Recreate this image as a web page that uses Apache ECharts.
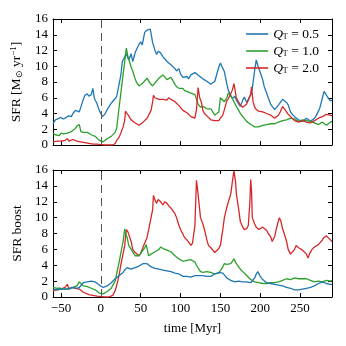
<!DOCTYPE html>
<html>
<head>
<meta charset="utf-8">
<script src="https://cdn.jsdelivr.net/npm/echarts@6/dist/echarts.min.js"></script>
<style>
  html, body { margin: 0; padding: 0; background: #fff; }
  #main { width: 346px; height: 346px; }
</style>
</head>
<body>
<div id="main"></div>
<script>
// time [Myr] vs. value
var seriesNames = ['0.5', '1.0', '2.0'];
var colors = ['#1f77b4', '#2ca02c', '#d62728'];
var xTicks = [-50, 0, 50, 100, 150, 200, 250];

// top panel: SFR
var sfrQ05 = [[-60,2.7],[-57,3.2],[-55,3.0],[-50,3.5],[-47,3.3],[-45,3.4],[-40,3.7],[-37,3.6],[-35,4.0],[-32,4.4],[-30,4.6],[-27,4.2],[-25,4.4],[-22,5.8],[-20,6.3],[-17,6.5],[-15,6.2],[-12,6.4],[-10,7.2],[-8,5.9],[-5,5.3],[-2,4.4],[0,4.0],[2,3.6],[5,3.9],[8,4.5],[10,4.8],[13,5.3],[15,5.5],[18,5.9],[20,6.2],[23,7.8],[25,8.8],[27,10.6],[30,11.2],[32,11.6],[35,10.8],[38,11.6],[40,10.6],[43,11.7],[45,12.2],[48,12.8],[50,13.1],[52,12.7],[55,14.3],[58,14.6],[60,14.4],[62,14.7],[65,13.0],[68,12.0],[70,11.5],[72,11.9],[75,11.7],[78,11.2],[80,11.2],[83,10.6],[85,10.7],[88,10.2],[90,10.4],[93,9.7],[95,9.4],[98,9.7],[100,9.0],[103,8.6],[105,8.4],[108,8.7],[110,8.4],[113,8.9],[115,9.0],[118,9.2],[120,9.1],[123,8.8],[125,8.9],[128,8.4],[130,8.6],[133,8.1],[135,8.0],[138,7.7],[140,7.8],[143,8.1],[145,8.3],[148,9.9],[150,10.4],[152,10.2],[155,9.3],[158,7.8],[160,6.9],[163,6.3],[165,5.9],[168,6.2],[170,5.7],[173,5.2],[175,4.9],[178,5.7],[180,6.1],[183,5.4],[185,5.8],[188,6.4],[190,7.2],[193,9.5],[195,10.8],[197,10.1],[200,9.2],[203,8.3],[205,7.4],[208,6.6],[210,6.0],[213,5.2],[215,4.9],[218,4.5],[220,4.6],[223,5.1],[225,5.2],[228,5.8],[230,5.6],[233,5.4],[235,5.1],[238,4.2],[240,3.9],[243,3.6],[245,3.4],[248,3.2],[250,3.2],[253,3.0],[255,3.1],[258,3.4],[260,3.2],[263,3.0],[265,3.1],[268,3.4],[270,3.7],[273,4.3],[275,4.8],[278,6.0],[280,6.8],[282,6.5],[285,6.0],[288,5.6],[290,5.7]];
var sfrQ10 = [[-60,1.5],[-57,1.3],[-55,1.4],[-52,1.2],[-50,1.5],[-47,1.4],[-45,1.6],[-42,1.5],[-40,1.5],[-37,1.7],[-35,1.8],[-32,2.1],[-30,2.4],[-27,2.6],[-25,1.7],[-22,1.6],[-20,1.5],[-17,1.6],[-15,1.4],[-12,1.3],[-10,1.3],[-7,1.1],[-5,1.0],[-2,0.6],[0,0.4],[3,0.4],[5,0.6],[8,0.8],[10,0.9],[13,1.1],[15,1.3],[18,1.6],[20,2.2],[22,4.0],[25,6.5],[28,9.0],[30,10.6],[32,12.3],[34,11.2],[36,10.6],[38,9.9],[40,9.4],[43,8.4],[45,7.9],[48,7.5],[50,7.6],[53,7.9],[55,7.7],[58,8.5],[60,8.7],[62,7.8],[65,7.5],[68,7.9],[70,8.1],[73,8.5],[75,8.7],[78,8.9],[80,8.8],[83,8.3],[85,8.2],[88,8.6],[90,8.4],[93,7.7],[95,7.4],[98,7.2],[100,7.0],[103,7.2],[105,6.9],[108,6.8],[110,6.7],[113,6.6],[115,6.5],[118,6.4],[120,6.3],[122,5.2],[125,4.8],[128,4.9],[130,4.7],[133,4.6],[135,4.4],[138,4.6],[140,4.4],[143,3.8],[145,3.7],[148,4.2],[150,6.0],[152,5.8],[155,5.5],[158,6.0],[160,6.6],[163,6.2],[165,5.9],[168,5.3],[170,4.9],[173,4.4],[175,4.0],[178,3.6],[180,3.4],[183,3.0],[185,2.8],[188,2.6],[190,2.5],[193,2.3],[195,2.2],[198,2.3],[200,2.4],[203,2.5],[205,2.5],[208,2.6],[210,2.6],[213,2.7],[215,2.8],[218,2.7],[220,2.8],[223,2.9],[225,3.0],[228,3.1],[230,3.2],[233,3.2],[235,3.3],[238,3.4],[240,3.4],[243,3.3],[245,3.2],[248,3.0],[250,3.0],[253,3.2],[255,3.3],[258,3.1],[260,3.2],[263,3.0],[265,2.8],[268,2.8],[270,2.7],[273,2.6],[275,2.6],[278,2.9],[280,2.8],[283,2.5],[285,2.6],[288,2.9],[290,3.0]];
var sfrQ20 = [[-60,0.4],[-55,0.5],[-50,0.5],[-45,0.6],[-42,0.8],[-40,0.5],[-35,0.7],[-30,0.5],[-25,0.4],[-20,0.3],[-15,0.2],[-10,0.1],[-5,0.1],[0,0.05],[5,0],[10,0],[15,0],[18,0.2],[20,0.6],[23,1.0],[25,1.5],[28,2.3],[30,3.2],[31,4.3],[33,4.0],[35,3.7],[38,3.2],[40,3.0],[43,2.8],[45,2.8],[48,2.5],[50,2.6],[53,2.9],[55,3.1],[58,3.4],[60,3.6],[63,4.4],[65,5.5],[66,6.3],[68,6.0],[70,6.1],[73,5.8],[75,6.0],[78,5.8],[80,5.9],[83,5.7],[85,6.0],[88,5.8],[90,5.7],[93,5.5],[95,5.3],[98,5.0],[100,4.8],[103,4.4],[105,4.3],[108,4.1],[110,3.9],[113,3.6],[115,3.5],[118,3.4],[120,4.5],[122,7.3],[124,6.0],[126,5.5],[128,4.4],[130,4.0],[133,3.7],[135,3.5],[138,3.2],[140,3.0],[143,3.1],[145,2.9],[148,3.1],[150,3.4],[153,3.8],[155,4.5],[158,5.6],[160,5.9],[163,6.5],[165,7.0],[167,7.8],[170,6.0],[173,5.4],[175,5.1],[178,4.8],[180,4.9],[183,5.2],[185,5.0],[188,6.4],[189,7.4],[191,5.5],[193,4.8],[195,4.5],[198,4.3],[200,4.4],[203,4.2],[205,4.1],[208,4.0],[210,4.0],[213,3.8],[215,3.7],[218,3.4],[220,3.3],[223,3.8],[225,4.2],[228,4.9],[230,4.7],[233,4.2],[235,3.9],[238,3.6],[240,3.4],[243,3.1],[245,3.0],[248,2.9],[250,3.0],[253,3.1],[255,3.0],[258,2.9],[260,3.0],[263,2.8],[265,2.8],[268,3.1],[270,3.2],[273,3.4],[275,3.3],[278,3.6],[280,3.7],[283,3.9],[285,4.0],[288,3.8],[290,3.7]];

// bottom panel: SFR boost
var boostQ05 = [[-60,1.0],[-55,0.9],[-50,1.0],[-45,1.0],[-40,1.1],[-35,1.2],[-30,1.1],[-27,1.2],[-25,1.4],[-22,1.8],[-20,2.0],[-17,1.9],[-15,1.9],[-12,2.0],[-10,2.1],[-7,1.9],[-5,1.7],[-2,1.5],[0,1.4],[3,1.2],[5,1.3],[8,1.4],[10,1.5],[13,1.8],[15,2.0],[18,2.3],[20,2.5],[23,2.7],[25,2.8],[28,3.1],[30,3.4],[33,3.7],[35,3.8],[38,3.5],[40,3.5],[43,3.7],[45,3.7],[48,3.9],[50,4.0],[53,4.2],[55,4.3],[58,4.2],[60,4.0],[63,3.8],[65,3.8],[68,3.6],[70,3.7],[73,3.5],[75,3.5],[78,3.4],[80,3.5],[83,3.3],[85,3.4],[88,3.2],[90,3.2],[93,3.0],[95,2.9],[98,2.9],[100,2.8],[103,2.6],[105,2.5],[108,2.6],[110,2.7],[113,2.5],[115,2.6],[118,2.7],[120,2.8],[123,2.7],[125,2.8],[128,2.7],[130,2.7],[133,2.6],[135,2.5],[138,2.6],[140,2.8],[143,2.9],[145,3.0],[148,3.1],[150,3.2],[153,3.0],[155,2.8],[158,2.4],[160,2.2],[163,2.1],[165,2.0],[168,1.9],[170,1.9],[173,2.0],[175,2.0],[178,1.9],[180,1.8],[183,1.9],[185,1.9],[188,1.8],[190,1.8],[193,2.4],[195,2.9],[197,3.2],[199,3.0],[200,2.6],[203,2.2],[205,2.0],[208,1.8],[210,1.7],[213,1.7],[215,1.6],[218,1.6],[220,1.6],[223,1.5],[225,1.6],[228,1.4],[230,1.3],[233,1.2],[235,1.2],[238,1.1],[240,1.0],[243,0.9],[245,0.9],[248,0.9],[250,0.9],[253,1.0],[255,1.0],[258,1.1],[260,1.1],[263,1.2],[265,1.3],[268,1.4],[270,1.5],[273,1.7],[275,1.8],[278,1.9],[280,1.8],[283,1.7],[285,1.7],[288,1.6],[290,1.6]];
var boostQ10 = [[-60,1.2],[-55,1.1],[-50,1.1],[-45,1.0],[-40,1.0],[-35,1.2],[-30,1.4],[-27,1.9],[-25,1.7],[-22,1.4],[-20,1.3],[-17,1.3],[-15,1.2],[-12,1.1],[-10,1.0],[-7,0.9],[-5,0.8],[-2,0.5],[0,0.3],[3,0.4],[5,0.5],[8,0.7],[10,0.8],[13,1.1],[15,1.3],[18,2.0],[20,3.0],[23,4.4],[25,5.5],[28,7.0],[30,8.6],[31,8.0],[33,7.5],[35,6.5],[38,6.0],[40,5.8],[43,5.2],[45,5.0],[48,5.2],[50,5.5],[53,5.9],[55,6.2],[57,6.6],[59,5.6],[60,5.2],[63,5.4],[65,5.5],[68,5.7],[70,5.8],[73,6.0],[75,6.3],[78,6.1],[80,6.0],[83,5.9],[85,6.1],[88,5.7],[90,5.5],[93,5.2],[95,5.0],[98,4.8],[100,4.7],[103,4.5],[105,4.5],[108,4.6],[110,4.5],[113,4.7],[115,4.8],[118,4.4],[120,4.0],[123,3.5],[125,3.2],[128,3.1],[130,3.0],[133,3.2],[135,3.2],[138,3.1],[140,3.0],[143,2.9],[145,2.8],[148,3.0],[150,3.2],[153,3.8],[155,4.2],[158,4.1],[160,4.0],[163,4.2],[165,4.2],[167,4.8],[170,4.2],[173,3.8],[175,3.5],[178,3.2],[180,3.0],[183,2.7],[185,2.5],[188,2.2],[190,2.0],[193,1.9],[195,1.8],[198,1.8],[200,1.7],[203,1.7],[205,1.7],[208,1.7],[210,1.7],[213,1.8],[215,1.8],[218,1.8],[220,1.8],[223,1.9],[225,2.0],[228,2.1],[230,2.2],[233,2.3],[235,2.3],[238,2.2],[240,2.3],[243,2.4],[245,2.3],[248,2.3],[250,2.4],[253,2.3],[255,2.3],[258,2.3],[260,2.2],[263,2.1],[265,2.0],[268,1.9],[270,1.9],[273,2.0],[275,2.0],[278,1.9],[280,2.0],[283,2.1],[285,2.1],[288,2.0],[290,2.1]];
var boostQ20 = [[-60,0.8],[-55,0.9],[-50,1.0],[-45,1.2],[-42,1.6],[-40,1.0],[-37,1.2],[-35,1.4],[-32,1.1],[-30,1.0],[-27,1.0],[-25,0.9],[-22,0.6],[-20,0.5],[-15,0.3],[-10,0.2],[-5,0.1],[0,0.05],[5,0],[10,0],[15,0.2],[18,0.8],[20,1.5],[23,2.8],[25,4.0],[28,5.5],[30,6.5],[32,8.5],[34,8.2],[35,8.0],[38,7.0],[40,6.0],[43,5.6],[45,5.5],[48,5.2],[50,5.5],[53,6.3],[55,6.5],[58,7.5],[60,8.5],[63,10.0],[65,11.0],[66,12.8],[68,12.2],[70,11.8],[72,12.3],[75,12.0],[78,11.6],[80,12.0],[83,11.8],[85,11.5],[88,11.2],[90,11.0],[93,10.5],[95,10.0],[98,9.0],[100,8.5],[103,7.9],[105,7.5],[108,7.2],[110,7.0],[113,6.5],[115,6.8],[118,9.0],[120,14.7],[122,13.0],[123,12.0],[125,10.0],[128,9.2],[130,8.5],[133,7.2],[135,6.5],[138,6.2],[140,6.0],[143,5.6],[145,5.8],[148,6.1],[150,6.5],[153,8.5],[155,10.0],[158,11.3],[160,11.2],[163,13.0],[165,14.5],[167,15.9],[169,14.5],[170,13.0],[173,11.0],[175,9.5],[178,8.8],[180,8.5],[183,8.6],[185,9.0],[187,12.0],[188,14.8],[189,13.5],[190,10.0],[193,9.2],[195,8.8],[198,8.5],[200,8.5],[203,8.8],[205,9.0],[208,8.4],[210,8.0],[213,7.6],[215,7.0],[218,7.6],[220,8.5],[222,9.3],[224,10.0],[226,9.5],[228,8.6],[230,8.0],[233,7.0],[235,6.0],[238,5.4],[240,5.5],[243,6.0],[245,6.5],[248,6.2],[250,6.0],[253,5.9],[255,5.8],[258,5.4],[260,4.9],[262,5.5],[265,6.0],[268,6.3],[270,6.5],[273,6.6],[275,6.8],[278,7.2],[280,7.5],[283,7.7],[285,7.6],[288,7.2],[290,7.0]];

var font = 'Liberation Serif';
var myChart = echarts.init(document.getElementById('main'));

function minus(v) { return String(v).replace('-', '\u2212'); }

var lineAx = { show: true, onZero: false, lineStyle: { color: '#000', width: 1 } };

// x ticks at -50, 0, 50, ... while the axis starts at -60
function xAx(grid, pos, labels) {
    return {
        type: 'value', gridIndex: grid, position: pos, min: -60, max: 290,
        axisLine: lineAx, splitLine: { show: false },
        axisTick: { show: true, inside: true, length: 4, customValues: xTicks, lineStyle: { color: '#000', width: 1 } },
        axisLabel: {
            show: labels, color: '#000', fontFamily: font, fontSize: 13, margin: 5,
            customValues: xTicks, formatter: minus
        },
        name: labels ? 'time [Myr]' : '', nameLocation: 'middle', nameGap: 25,
        nameTextStyle: { color: '#000', fontFamily: font, fontSize: 13 }
    };
}
function yAx(grid, pos, labels, name) {
    return {
        type: 'value', gridIndex: grid, position: pos, min: 0, max: 16, interval: 2,
        axisLine: lineAx, splitLine: { show: false },
        axisTick: { show: true, inside: true, length: 4, lineStyle: { color: '#000', width: 1 } },
        axisLabel: { show: labels, color: '#000', fontFamily: font, fontSize: 13, margin: 5 },
        name: name || '', nameLocation: 'middle', nameGap: 29, nameRotate: 90,
        nameTextStyle: {
            color: '#000', fontFamily: font, fontSize: 13.5,
            rich: {
                n: { fontFamily: font, fontSize: 13.5 },
                sub: { fontFamily: font, fontSize: 9, verticalAlign: 'bottom', padding: [6, 0, 0, 0] },
                sup: { fontFamily: font, fontSize: 9, verticalAlign: 'top', padding: [0, 0, 6, 0] }
            }
        }
    };
}

var xAxes = [xAx(0, 'bottom', false), xAx(0, 'top', false), xAx(1, 'bottom', true), xAx(1, 'top', false)];
var yAxes = [
    yAx(0, 'left', true, '{n|SFR [M}{sub|\u2299}{n| yr}{sup|\u22121}{n|]}'), yAx(0, 'right', false),
    yAx(1, 'left', true, 'SFR boost'), yAx(1, 'right', false)
];

var topData = [sfrQ05, sfrQ10, sfrQ20];
var botData = [boostQ05, boostQ10, boostQ20];
var series = [];
var dashLine = {
    silent: true, symbol: ['none', 'none'], label: { show: false },
    lineStyle: { color: '#555', type: [8, 5], width: 1 },
    data: [{ xAxis: 0 }]
};
topData.forEach(function (d, i) {
    series.push({
        name: seriesNames[i], type: 'line', xAxisIndex: 0, yAxisIndex: 0, data: d,
        symbol: 'none', color: colors[i], lineStyle: { width: 1.3 }, z: 3 + i,
        markLine: i === 0 ? dashLine : undefined
    });
});
botData.forEach(function (d, i) {
    series.push({
        name: seriesNames[i], type: 'line', xAxisIndex: 2, yAxisIndex: 2, data: d,
        symbol: 'none', color: colors[i], lineStyle: { width: 1.3 }, z: 3 + (2 - i),
        markLine: i === 0 ? dashLine : undefined
    });
});

myChart.setOption({
    animation: false,
    backgroundColor: '#fff',
    grid: [
        { left: 53, right: 14, top: 19, height: 126 },
        { left: 53, right: 14, top: 170, height: 127 }
    ],
    legend: {
        data: seriesNames, orient: 'vertical', right: 22, top: 22,
        icon: 'rect', itemWidth: 22, itemHeight: 1.6, itemGap: 3,
        textStyle: {
            fontFamily: font, fontSize: 13, color: '#000',
            rich: {
                q: { fontFamily: font, fontStyle: 'italic', fontSize: 13.5 },
                s: { fontFamily: font, fontSize: 8, verticalAlign: 'bottom', padding: [6, 0, 0, 0] },
                n: { fontFamily: font, fontSize: 13.5 }
            }
        },
        formatter: function (n) { return '{q|Q}{s|T}{n| = ' + n + '}'; }
    },
    xAxis: xAxes,
    yAxis: yAxes,
    series: series
});
</script>
</body>
</html>
